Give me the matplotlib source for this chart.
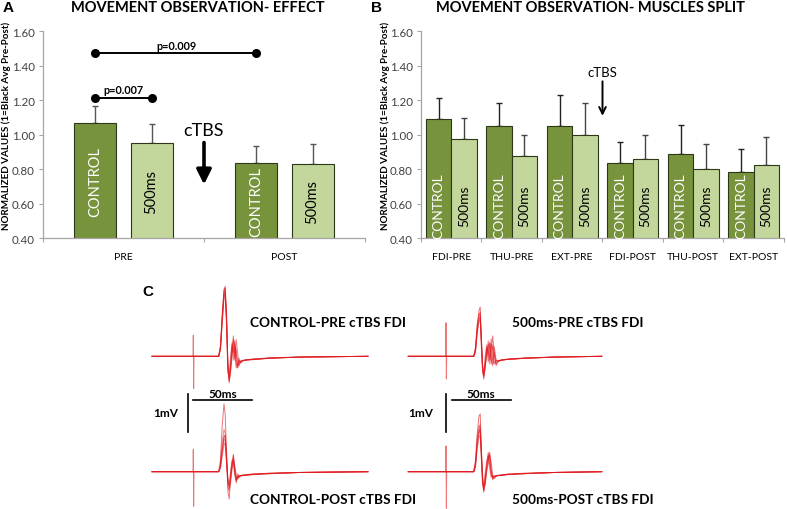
import matplotlib
matplotlib.use("Agg")
import matplotlib.pyplot as plt
import numpy as np

plt.rcParams["font.family"] = ["Lato", "DejaVu Sans"]

W, H = 787, 510

# ---- panel A data ----
groups_a = ["PRE", "POST"]
control_a = [1.067, 0.838]
control_a_err = [0.102, 0.095]
ms500_a = [0.952, 0.829]
ms500_a_err = [0.109, 0.118]

# ---- panel B data ----
groups_b = ["FDI-PRE", "THU-PRE", "EXT-PRE", "FDI-POST", "THU-POST", "EXT-POST"]
control_b = [1.091, 1.052, 1.052, 0.834, 0.890, 0.786]
control_b_err = [0.125, 0.131, 0.178, 0.125, 0.166, 0.131]
ms500_b = [0.975, 0.878, 1.000, 0.857, 0.801, 0.824]
ms500_b_err = [0.123, 0.118, 0.183, 0.141, 0.145, 0.166]

yticks = [0.40, 0.60, 0.80, 1.00, 1.20, 1.40, 1.60]

# ---- panel C traces (ms after stimulus, mV) ----
t_left = [-35, -0.2, 0, 0.3, 0.6, 21.5, 23, 24.5, 26, 27, 28.2, 29.3, 30.4, 31.6,
          32.8, 34, 35.2, 36.4, 37.6, 38.8, 40, 41.5, 44, 50, 65, 90, 148]
t_right = [-32, -0.2, 0, 0.3, 0.6, 23.5, 25, 26.5, 28, 29, 30, 31, 32, 33.2,
           34.5, 35.8, 37, 38.3, 39.6, 41, 42.5, 44, 47, 52, 67, 92, 132]

control_pre_traces = [
    [0, 0, 0.55, -0.84, 0, 0, 0.25, 1.05, 1.7, 1.82, 1.1, -0.2, -0.69, -0.35, 0.1, 0.53, 0.05, -0.3, -0.2, -0.15, -0.12, -0.11, -0.1, -0.09, -0.05, -0.02, 0],
    [0, 0, 0, 0, 0, 0, 0.2, 0.95, 1.6, 1.7, 0.95, -0.35, -0.6, -0.15, 0.3, 0.2, -0.1, 0.44, 0.1, -0.25, -0.15, -0.12, -0.1, -0.08, -0.05, -0.02, 0],
    [0, 0, 0, 0, 0, 0, 0.15, 0.85, 1.5, 1.6, 0.8, -0.45, -0.5, 0.0, 0.35, -0.1, 0.3, 0.1, -0.3, -0.1, -0.18, -0.13, -0.1, -0.08, -0.05, -0.02, 0],
    [0, 0, 0, 0, 0, 0, 0.3, 1.1, 1.75, 1.78, 0.9, -0.25, -0.65, -0.45, -0.05, 0.35, 0.4, -0.2, -0.25, -0.05, -0.16, -0.12, -0.1, -0.08, -0.04, -0.02, 0],
    [0, 0, 0, 0, 0, 0, 0.22, 1.0, 1.65, 1.75, 1.0, -0.1, -0.55, -0.3, 0.2, 0.45, -0.05, 0.2, -0.15, -0.22, -0.14, -0.11, -0.09, -0.07, -0.04, -0.02, 0],
    [0, 0, 0, 0, 0, 0, 0.18, 0.9, 1.55, 1.65, 0.85, -0.3, -0.62, -0.25, 0.25, 0.1, 0.35, -0.1, -0.3, -0.12, -0.15, -0.12, -0.1, -0.08, -0.05, -0.02, 0],
]
control_post_traces = [
    [0, 0, 0.58, -0.9, 0, 0, 0.3, 1.2, 1.76, 1.5, 0.5, -0.5, -0.71, -0.2, 0.2, 0.45, 0.0, -0.29, -0.1, -0.15, -0.12, -0.1, -0.1, -0.08, -0.05, -0.02, 0],
    [0, 0, 0, 0, 0, 0, 0.15, 0.6, 0.93, 0.9, 0.3, -0.3, -0.36, -0.05, 0.25, 0.35, 0.05, -0.2, -0.15, -0.12, -0.1, -0.1, -0.09, -0.07, -0.05, -0.02, 0],
    [0, 0, 0, 0, 0, 0, 0.1, 0.5, 0.85, 0.8, 0.2, -0.25, -0.4, 0.0, 0.3, 0.2, -0.1, -0.25, -0.05, -0.12, -0.1, -0.1, -0.09, -0.07, -0.04, -0.02, 0],
    [0, 0, 0, 0, 0, 0, 0.2, 0.75, 1.1, 1.0, 0.35, -0.4, -0.5, -0.1, 0.15, 0.42, 0.1, -0.15, -0.2, -0.1, -0.11, -0.1, -0.09, -0.07, -0.05, -0.02, 0],
    [0, 0, 0, 0, 0, 0, 0.12, 0.55, 0.9, 0.95, 0.45, -0.2, -0.3, -0.2, 0.1, 0.3, 0.15, -0.1, -0.18, -0.14, -0.1, -0.09, -0.08, -0.06, -0.04, -0.02, 0],
    [0, 0, 0, 0, 0, 0, 0.1, 0.4, 0.7, 0.75, 0.25, -0.15, -0.45, -0.3, 0.05, 0.25, -0.05, -0.22, -0.12, -0.1, -0.1, -0.09, -0.08, -0.06, -0.04, -0.02, 0],
]
ms500_pre_traces = [
    [0, 0, 0.87, -0.59, 0, 0, 0.2, 0.8, 1.2, 1.28, 0.4, -0.35, -0.59, -0.3, 0.1, 0.3, -0.1, 0.2, 0.53, 0.0, -0.2, -0.12, -0.1, -0.08, -0.05, -0.02, 0],
    [0, 0, 0, 0, 0, 0, 0.15, 0.7, 1.0, 1.05, 0.3, -0.3, -0.5, -0.1, 0.25, 0.0, 0.35, 0.1, -0.2, 0.25, -0.1, -0.15, -0.1, -0.08, -0.05, -0.02, 0],
    [0, 0, 0, 0, 0, 0, 0.1, 0.65, 0.95, 1.0, 0.5, -0.2, -0.45, -0.25, 0.05, 0.4, 0.2, -0.2, 0.3, 0.05, -0.25, -0.12, -0.1, -0.08, -0.05, -0.02, 0],
    [0, 0, 0, 0, 0, 0, 0.25, 0.85, 1.1, 1.1, 0.2, -0.4, -0.55, 0.0, 0.3, -0.15, 0.1, 0.45, -0.1, -0.2, -0.1, -0.13, -0.1, -0.08, -0.05, -0.02, 0],
    [0, 0, 0, 0, 0, 0, 0.18, 0.75, 1.05, 1.15, 0.45, -0.25, -0.4, -0.35, 0.2, 0.15, -0.2, 0.3, 0.2, -0.15, -0.18, -0.12, -0.09, -0.07, -0.04, -0.02, 0],
    [0, 0, 0, 0, 0, 0, 0.12, 0.6, 0.9, 0.95, 0.35, -0.35, -0.5, -0.15, 0.0, 0.25, 0.35, -0.1, -0.25, 0.1, -0.12, -0.12, -0.1, -0.08, -0.05, -0.02, 0],
]
ms500_post_traces = [
    [0, 0, 0.67, -0.95, 0, 0, 0.3, 1.0, 1.45, 1.5, 0.6, -0.2, -0.53, -0.3, 0.05, 0.3, 0.51, 0.1, -0.2, -0.15, -0.12, -0.1, -0.1, -0.08, -0.05, -0.02, 0],
    [0, 0, 0, 0, 0, 0, 0.2, 0.8, 1.1, 1.05, 0.4, -0.3, -0.45, -0.1, 0.1, 0.45, 0.2, -0.15, -0.1, -0.13, -0.11, -0.1, -0.09, -0.07, -0.05, -0.02, 0],
    [0, 0, 0, 0, 0, 0, 0.15, 0.7, 1.0, 1.1, 0.3, -0.35, -0.5, -0.2, 0.2, 0.5, 0.35, -0.05, -0.2, -0.12, -0.1, -0.1, -0.09, -0.07, -0.04, -0.02, 0],
    [0, 0, 0, 0, 0, 0, 0.25, 0.9, 1.2, 1.15, 0.5, -0.15, -0.4, -0.35, 0.0, 0.2, 0.45, 0.25, -0.1, -0.18, -0.12, -0.1, -0.09, -0.07, -0.05, -0.02, 0],
    [0, 0, 0, 0, 0, 0, 0.1, 0.6, 0.9, 0.95, 0.35, -0.25, -0.35, -0.05, 0.3, 0.4, 0.1, -0.1, -0.15, -0.1, -0.1, -0.09, -0.08, -0.06, -0.04, -0.02, 0],
    [0, 0, 0, 0, 0, 0, 0.18, 0.75, 1.05, 1.25, 0.55, -0.1, -0.48, -0.25, 0.15, 0.35, 0.42, 0.0, -0.12, -0.14, -0.11, -0.1, -0.09, -0.07, -0.05, -0.02, 0],
]

DARK = "#77933c"
LIGHT = "#c3d69b"
EDGE = "#2c3818"
AXC = "#a6a6a6"


def rect(x0, y0, w, h):
    # pixel box (top-left origin) -> figure fraction
    return [x0 / W, 1 - (y0 + h) / H, w / W, h / H]


def fx(x):
    return x / W


def fy(y):
    return 1 - y / H


def style_axes(ax, n):
    for s in ["top", "right"]:
        ax.spines[s].set_visible(False)
    for s in ["left", "bottom"]:
        ax.spines[s].set_color(AXC)
        ax.spines[s].set_linewidth(0.9)
    ax.set_ylim(0.4, 1.6)
    ax.set_yticks(yticks)
    ax.set_yticklabels(["%.2f" % v for v in yticks], fontsize=8.3, color="#404040")
    ax.tick_params(axis="y", direction="out", length=3, color=AXC, pad=3)
    ax.set_xlim(-0.5, n - 0.5)
    ax.set_xticks(np.arange(n + 1) - 0.5)
    ax.set_xticklabels([])
    ax.tick_params(axis="x", which="major", direction="out", length=3, color=AXC)


fig = plt.figure(figsize=(W / 100, H / 100), dpi=100)

# ---------------- panel A ----------------
axA = fig.add_axes(rect(43, 32.3, 322, 207))
style_axes(axA, 2)
xa = np.arange(len(groups_a))
wa, offa = 0.261, 0.174
axA.bar(xa - offa, control_a, wa, color=DARK, edgecolor=EDGE, linewidth=0.8, zorder=2)
axA.bar(xa + offa, ms500_a, wa, color=LIGHT, edgecolor=EDGE, linewidth=0.8, zorder=2)
axA.errorbar(xa - offa, control_a, yerr=[np.zeros(2), control_a_err], fmt="none",
             ecolor="#555555", elinewidth=1, capsize=2.2, capthick=1, zorder=1)
axA.errorbar(xa + offa, ms500_a, yerr=[np.zeros(2), ms500_a_err], fmt="none",
             ecolor="#555555", elinewidth=1, capsize=2.2, capthick=1, zorder=1)
axA.set_xticks(xa, minor=True)
axA.set_xticklabels(groups_a, minor=True, fontsize=7.5)
axA.tick_params(axis="x", which="minor", length=0, pad=10)
for i in range(2):
    axA.text(xa[i] - offa, (0.4 + control_a[i]) / 2, "CONTROL", rotation=90, color="white",
             ha="center", va="center", fontsize=10.5, zorder=3)
    axA.text(xa[i] + offa, (0.4 + ms500_a[i]) / 2, "500ms", rotation=90, color="black",
             ha="center", va="center", fontsize=10.5, zorder=3)

# significance brackets
axA.plot([xa[0] - offa, xa[1] - offa], [1.474, 1.474], color="black", lw=1.4,
         marker="o", ms=5.5, zorder=4, clip_on=False)
axA.text((xa[0] + xa[1]) / 2 - offa, 1.52, "p=0.009", ha="center", va="center",
         fontsize=7.8, fontweight="bold")
axA.plot([xa[0] - offa, xa[0] + offa], [1.212, 1.212], color="black", lw=1.4,
         marker="o", ms=5.5, zorder=4)
axA.text(xa[0], 1.262, "p=0.007", ha="center", va="center", fontsize=7.8, fontweight="bold")

axA.text(0.5, 1.027, "cTBS", ha="center", va="center", fontsize=13)
axA.annotate("", xy=(0.5, 0.712), xytext=(0.5, 0.955),
             arrowprops=dict(arrowstyle="-|>", lw=2.6, color="black", mutation_scale=22,
                             shrinkA=0, shrinkB=0))

fig.text(fx(198), fy(8), "MOVEMENT OBSERVATION- EFFECT", ha="center", va="center",
         fontsize=10.5, fontweight="bold")
fig.text(fx(8), fy(8), "A", ha="center", va="center", fontsize=11, fontweight="bold",
         family="Liberation Sans")
fig.text(fx(6), fy(126), "NORMALIZED VALUES (1=Black Avg Pre-Post)", rotation=90,
         ha="center", va="center", fontsize=7.1, fontweight="bold")

# ---------------- panel B ----------------
axB = fig.add_axes(rect(421, 32.3, 363, 207))
style_axes(axB, 6)
xb = np.arange(len(groups_b))
wb, offb = 0.418, 0.209
axB.bar(xb - offb, control_b, wb, color=DARK, edgecolor=EDGE, linewidth=0.8, zorder=2)
axB.bar(xb + offb, ms500_b, wb, color=LIGHT, edgecolor=EDGE, linewidth=0.8, zorder=2)
axB.errorbar(xb - offb, control_b, yerr=[np.zeros(6), control_b_err], fmt="none",
             ecolor="#222222", elinewidth=1, capsize=2.2, capthick=1, zorder=1)
axB.errorbar(xb + offb, ms500_b, yerr=[np.zeros(6), ms500_b_err], fmt="none",
             ecolor="#444444", elinewidth=1, capsize=2.2, capthick=1, zorder=1)
axB.set_xticks(xb, minor=True)
axB.set_xticklabels(groups_b, minor=True, fontsize=7.5)
axB.tick_params(axis="x", which="minor", length=0, pad=10)
for i in range(6):
    axB.text(xb[i] - offb, 0.593, "CONTROL", rotation=90, color="white",
             ha="center", va="center", fontsize=10, zorder=3)
    axB.text(xb[i] + offb, 0.593, "500ms", rotation=90, color="black",
             ha="center", va="center", fontsize=10, zorder=3)
axB.text(2.5, 1.365, "cTBS", ha="center", va="center", fontsize=9.5)
axB.annotate("", xy=(2.5, 1.11), xytext=(2.5, 1.31),
             arrowprops=dict(arrowstyle="->", lw=1.4, color="black", mutation_scale=12,
                             shrinkA=0, shrinkB=0))

fig.text(fx(591), fy(8), "MOVEMENT OBSERVATION- MUSCLES SPLIT", ha="center", va="center",
         fontsize=10.5, fontweight="bold")
fig.text(fx(377), fy(8), "B", ha="center", va="center", fontsize=11, fontweight="bold",
         family="Liberation Sans")
fig.text(fx(385), fy(126), "NORMALIZED VALUES (1=Black Avg Pre-Post)", rotation=90,
         ha="center", va="center", fontsize=7.1, fontweight="bold")

# ---------------- panel C ----------------
axC = fig.add_axes(rect(140, 280, 500, 230))
axC.axis("off")
px_ms, px_mv = 1.18, 38.5
axC.set_xlim((140 - 193.3) / px_ms, (640 - 193.3) / px_ms)
axC.set_ylim((357.3 - 510) / px_mv, (357.3 - 280) / px_mv)
right_shift = (446 - 193.3) / px_ms
low_shift = (357.3 - 472.7) / px_mv

TRC = "#e0161c"
panels = [
    (t_left, control_pre_traces, 0, 0),
    (t_left, control_post_traces, 0, low_shift),
    (t_right, ms500_pre_traces, right_shift, 0),
    (t_right, ms500_post_traces, right_shift, low_shift),
]
for t, traces, dx, dy in panels:
    tt = np.array(t) + dx
    for k, tr in enumerate(traces):
        axC.plot(tt, np.array(tr) + dy, color=TRC, lw=0.7, alpha=0.5 if k else 0.6,
                 solid_joinstyle="round")

# scale bars
for xv, xh0 in [(-4.2, 0), (right_shift, right_shift + 4.8)]:
    axC.plot([xv, xv], [-0.98, -1.97], color="black", lw=1.2)
    axC.plot([xh0, xh0 + 50], [-1.127, -1.127], color="black", lw=1.2)

fig.text(fx(166), fy(414), "1mV", ha="center", va="center", fontsize=8.5, fontweight="bold")
fig.text(fx(223), fy(395), "50ms", ha="center", va="center", fontsize=8.5, fontweight="bold")
fig.text(fx(421), fy(414), "1mV", ha="center", va="center", fontsize=8.5, fontweight="bold")
fig.text(fx(481), fy(395), "50ms", ha="center", va="center", fontsize=8.5, fontweight="bold")

fig.text(fx(250), fy(323), "CONTROL-PRE cTBS FDI", ha="left", va="center", fontsize=9.8,
         fontweight="bold")
fig.text(fx(250), fy(500), "CONTROL-POST cTBS FDI", ha="left", va="center", fontsize=9.8,
         fontweight="bold")
fig.text(fx(512), fy(323), "500ms-PRE cTBS FDI", ha="left", va="center", fontsize=9.8,
         fontweight="bold")
fig.text(fx(512), fy(500), "500ms-POST cTBS FDI", ha="left", va="center", fontsize=9.8,
         fontweight="bold")
fig.text(fx(148), fy(292), "C", ha="center", va="center", fontsize=11, fontweight="bold",
         family="Liberation Sans")

fig.savefig("out.png", dpi=100)
